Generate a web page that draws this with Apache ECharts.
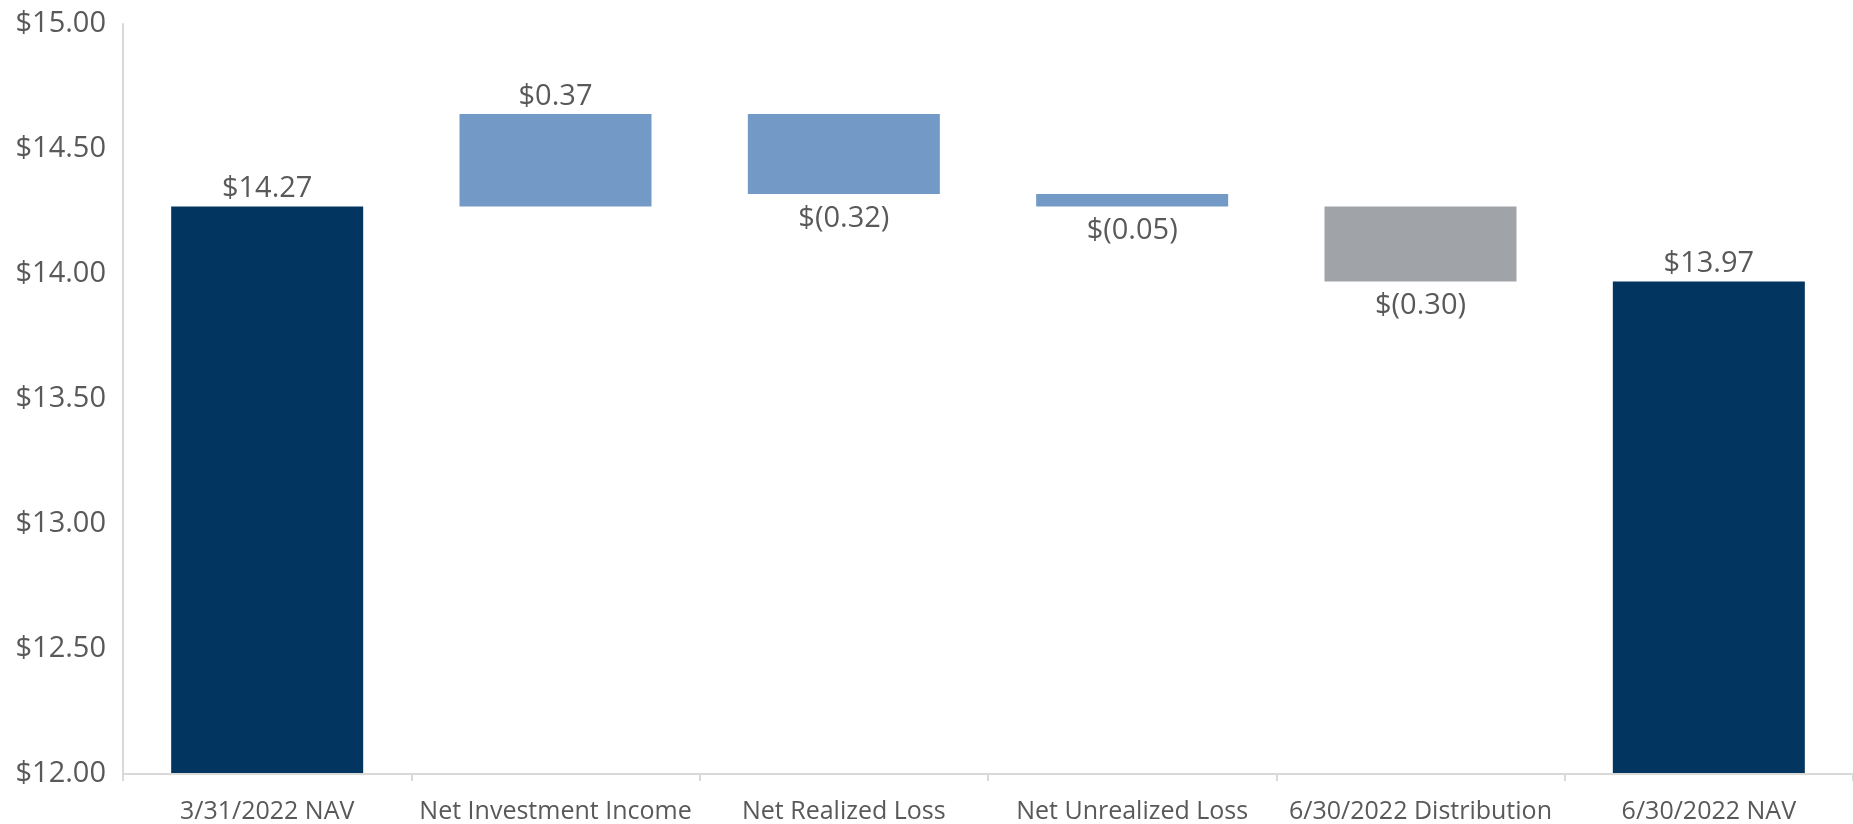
<!DOCTYPE html>
<html>
<head>
<meta charset="utf-8">
<script src="https://cdn.jsdelivr.net/npm/echarts@6/dist/echarts.min.js"></script>
<style>
  html, body { margin: 0; padding: 0; background: #fff; }
  #chart { width: 1853px; height: 824px; }
</style>
</head>
<body>
<div id="chart"></div>
<script>
// NAV bridge data
var categories = ['3/31/2022 NAV', 'Net Investment Income', 'Net Realized Loss',
    'Net Unrealized Loss', '6/30/2022 Distribution', '6/30/2022 NAV'];
var startNav = 14.27;
var changes = [0.37, -0.32, -0.05, -0.30];
var endNav = 13.97;
var yTicks = [12, 12.5, 13, 13.5, 14, 14.5, 15];

var navColor = '#02355f';
var changeColor = '#7399c6';
var distColor = '#a0a4a8';
var textColor = '#595959';

// build base (invisible) and visible parts of the waterfall
var baseData = [0];
var barData = [{ value: startNav, itemStyle: { color: navColor }, label: { position: 'top' }, raw: startNav }];
var running = startNav;
changes.forEach(function (c, i) {
    var next = running + c;
    baseData.push(Math.min(running, next));
    barData.push({
        value: Math.abs(c),
        raw: c,
        itemStyle: { color: i === changes.length - 1 ? distColor : changeColor },
        label: c >= 0 ? { position: 'top' } : { position: 'bottom', distance: 10 }
    });
    running = next;
});
baseData.push(0);
barData.push({ value: endNav, itemStyle: { color: navColor }, label: { position: 'top' }, raw: endNav });

function money(v) {
    return v < 0 ? '$(' + Math.abs(v).toFixed(2) + ')' : '$' + v.toFixed(2);
}

var chart = echarts.init(document.getElementById('chart'));
chart.setOption({
    animation: false,
    textStyle: { fontFamily: '"Open Sans", sans-serif' },
    grid: { left: 123, top: 24, bottom: 50, width: 1737 },
    xAxis: {
        type: 'category',
        data: categories,
        z: 3,
        axisLine: { lineStyle: { color: '#d9d9d9', width: 2 } },
        axisTick: { show: true, length: 7, lineStyle: { color: '#d9d9d9', width: 2 } },
        axisLabel: { color: textColor, fontSize: 25, margin: 25, interval: 0 }
    },
    yAxis: {
        type: 'value',
        min: yTicks[0],
        max: yTicks[yTicks.length - 1],
        interval: 0.5,
        axisLine: { show: true, lineStyle: { color: '#d9d9d9', width: 2 } },
        axisTick: { show: false },
        splitLine: { show: false },
        axisLabel: {
            color: textColor, fontSize: 29, margin: 17,
            formatter: function (v) { return '$' + v.toFixed(2); }
        }
    },
    series: [{
        type: 'bar',
        stack: 'wf',
        data: baseData,
        barWidth: 192,
        itemStyle: { color: 'transparent' },
        silent: true
    }, {
        type: 'bar',
        stack: 'wf',
        data: barData,
        barWidth: 192,
        label: {
            show: true,
            color: textColor,
            fontSize: 29,
            distance: 3,
            formatter: function (p) { return money(p.data.raw); }
        }
    }]
});
</script>
</body>
</html>
